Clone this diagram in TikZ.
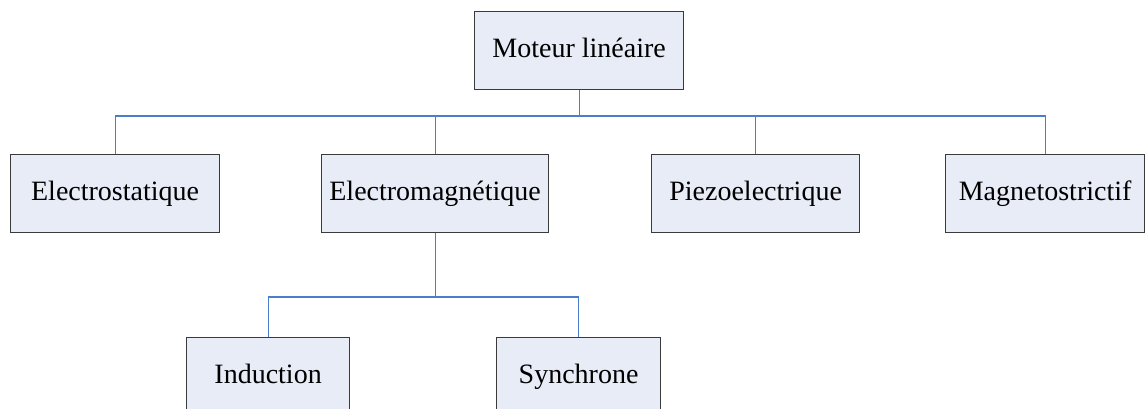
\documentclass[tikz,border=0pt]{standalone}
\usepackage{fontspec}
\setmainfont{Liberation Serif}
\definecolor{boxfill}{HTML}{E7ECF6}
\definecolor{boxline}{HTML}{3A3A3A}
\definecolor{linkline}{HTML}{4A7EC8}
\begin{document}
\begin{tikzpicture}[x=1pt,y=1pt,
  box/.style={draw=boxline,fill=boxfill,line width=1.2pt,inner sep=0pt,anchor=north west,
    minimum height=78pt,text height=19pt,text depth=6pt,font=\fontsize{28pt}{33pt}\selectfont},
  link/.style={draw=linkline,line width=1.1pt}]
\useasboundingbox (0,0) rectangle (1145,-409);
\clip (0,0) rectangle (1145,-409);
\node[box,minimum width=209pt] (top) at (474,-11) {Moteur linéaire};
\node[box,minimum width=209pt] (es) at (10,-154) {Electrostatique};
\node[box,minimum width=227pt] (em) at (321,-154) {Electromagnétique};
\node[box,minimum width=208pt] (pz) at (651,-154) {Piezoelectrique};
\node[box,minimum width=199pt] (mg) at (945,-154) {Magnetostrictif};
\node[box,minimum width=163pt] (ind) at (186,-337) {Induction};
\node[box,minimum width=164pt] (syn) at (496,-337) {Synchrone};
\coordinate (bus) at (top.south |- 0,-116);
\coordinate (bus2) at (em.south |- 0,-297);
\draw[link] (top.south) -- (bus);
\draw[link] (es.north) |- (bus) -| (mg.north);
\draw[link] (em.north) -- (em.north |- bus);
\draw[link] (pz.north) -- (pz.north |- bus);
\draw[link] (em.south) -- (bus2);
\draw[link] (ind.north) |- (bus2) -| (syn.north);
\end{tikzpicture}
\end{document}
